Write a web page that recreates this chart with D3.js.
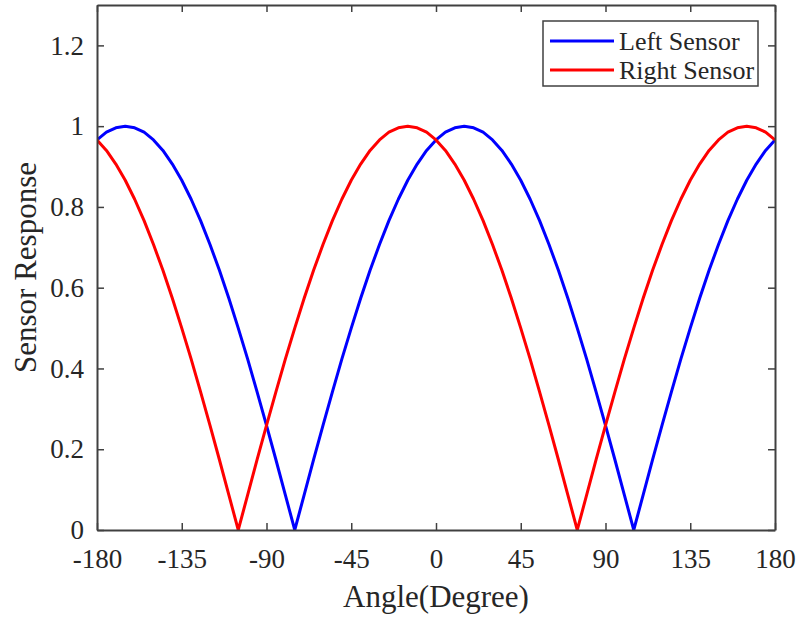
<!DOCTYPE html>
<html>
<head>
<meta charset="utf-8">
<script src="https://cdn.jsdelivr.net/npm/d3@7"></script>
<style>
  html, body { margin: 0; padding: 0; background: #fff; }
  svg text { font-family: "Liberation Serif", "Times New Roman", serif; fill: #262626; }
</style>
</head>
<body>
<div id="chart"></div>
<script>
// angle samples, every 5 degrees
const angles = d3.range(-180, 181, 5);

const leftSensor = [
  0.966, 0.985, 0.996, 1.000, 0.996, 0.985, 0.966, 0.940, 0.906, 0.866,
  0.819, 0.766, 0.707, 0.643, 0.574, 0.500, 0.423, 0.342, 0.259, 0.174,
  0.087, 0.000, 0.087, 0.174, 0.259, 0.342, 0.423, 0.500, 0.574, 0.643,
  0.707, 0.766, 0.819, 0.866, 0.906, 0.940, 0.966, 0.985, 0.996, 1.000,
  0.996, 0.985, 0.966, 0.940, 0.906, 0.866, 0.819, 0.766, 0.707, 0.643,
  0.574, 0.500, 0.423, 0.342, 0.259, 0.174, 0.087, 0.000, 0.087, 0.174,
  0.259, 0.342, 0.423, 0.500, 0.574, 0.643, 0.707, 0.766, 0.819, 0.866,
  0.906, 0.940, 0.966
];
const rightSensor = [
  0.966, 0.940, 0.906, 0.866, 0.819, 0.766, 0.707, 0.643, 0.574, 0.500,
  0.423, 0.342, 0.259, 0.174, 0.087, 0.000, 0.087, 0.174, 0.259, 0.342,
  0.423, 0.500, 0.574, 0.643, 0.707, 0.766, 0.819, 0.866, 0.906, 0.940,
  0.966, 0.985, 0.996, 1.000, 0.996, 0.985, 0.966, 0.940, 0.906, 0.866,
  0.819, 0.766, 0.707, 0.643, 0.574, 0.500, 0.423, 0.342, 0.259, 0.174,
  0.087, 0.000, 0.087, 0.174, 0.259, 0.342, 0.423, 0.500, 0.574, 0.643,
  0.707, 0.766, 0.819, 0.866, 0.906, 0.940, 0.966, 0.985, 0.996, 1.000,
  0.996, 0.985, 0.966
];

const xTicks = [-180, -135, -90, -45, 0, 45, 90, 135, 180];
const yTicks = [0, 0.2, 0.4, 0.6, 0.8, 1, 1.2];

const series = [
  { name: 'Left Sensor', values: leftSensor, color: '#0000ff' },
  { name: 'Right Sensor', values: rightSensor, color: '#ff0000' }
];

const W = 799, H = 617;
const margin = { top: 5, right: 24, bottom: 87, left: 97 };
const iw = W - margin.left - margin.right;
const ih = H - margin.top - margin.bottom;
const axisColor = '#404040';
const fmt = d => String(d); // plain hyphen, like matlab

const svg = d3.select('#chart').append('svg')
  .attr('width', W)
  .attr('height', H);

const g = svg.append('g').attr('transform', `translate(${margin.left},${margin.top})`);

const x = d3.scaleLinear().domain([-180, 180]).range([0, iw]);
const y = d3.scaleLinear().domain([0, 1.3]).range([ih, 0]);

// lines
const line = d3.line()
  .x((d, i) => x(angles[i]))
  .y(d => y(d));

g.append('defs').append('clipPath').attr('id', 'clip')
  .append('rect').attr('width', iw).attr('height', ih);

g.append('g').attr('clip-path', 'url(#clip)')
  .selectAll('path')
  .data(series)
  .join('path')
  .attr('d', d => line(d.values))
  .attr('fill', 'none')
  .attr('stroke', d => d.color)
  .attr('stroke-width', 3)
  .attr('stroke-linejoin', 'round');

// axes, ticks pointing inward like matlab
const xAxis = g.append('g')
  .attr('transform', `translate(0,${ih})`)
  .call(d3.axisBottom(x).tickValues(xTicks).tickSizeInner(-7).tickSizeOuter(0).tickPadding(19).tickFormat(fmt));
const xTop = g.append('g')
  .call(d3.axisTop(x).tickValues(xTicks).tickSizeInner(-7).tickSizeOuter(0).tickFormat(''));
const yAxis = g.append('g')
  .call(d3.axisLeft(y).tickValues(yTicks).tickSizeInner(-7).tickSizeOuter(0).tickPadding(13).tickFormat(fmt));
const yRight = g.append('g')
  .attr('transform', `translate(${iw},0)`)
  .call(d3.axisRight(y).tickValues(yTicks).tickSizeInner(-7).tickSizeOuter(0).tickFormat(''));

[xAxis, xTop, yAxis, yRight].forEach(a => {
  a.attr('font-family', null);
  a.select('.domain').attr('stroke', axisColor).attr('stroke-width', 2);
  a.selectAll('.tick line').attr('stroke', axisColor).attr('stroke-width', 1.5);
  a.selectAll('.tick text')
    .attr('font-size', 27)
    .attr('fill', '#262626');
});

// axis labels
svg.append('text')
  .attr('x', margin.left + iw / 2)
  .attr('y', 607)
  .attr('text-anchor', 'middle')
  .attr('font-size', 31)
  .text('Angle(Degree)');

svg.append('text')
  .attr('transform', `translate(36,${margin.top + ih / 2}) rotate(-90)`)
  .attr('text-anchor', 'middle')
  .attr('font-size', 31)
  .text('Sensor Response');

// legend
const lg = svg.append('g').attr('transform', 'translate(543,21)');
lg.append('rect')
  .attr('width', 215)
  .attr('height', 65)
  .attr('fill', '#fff')
  .attr('stroke', axisColor)
  .attr('stroke-width', 1.5);

const item = lg.selectAll('g.item')
  .data(series)
  .join('g')
  .attr('class', 'item')
  .attr('transform', (d, i) => `translate(0,${20 + i * 29})`);

item.append('line')
  .attr('x1', 7).attr('x2', 71)
  .attr('stroke', d => d.color)
  .attr('stroke-width', 3);

item.append('text')
  .attr('x', 76)
  .attr('y', 9)
  .attr('font-size', 26)
  .attr('fill', '#000')
  .text(d => d.name);
</script>
</body>
</html>
